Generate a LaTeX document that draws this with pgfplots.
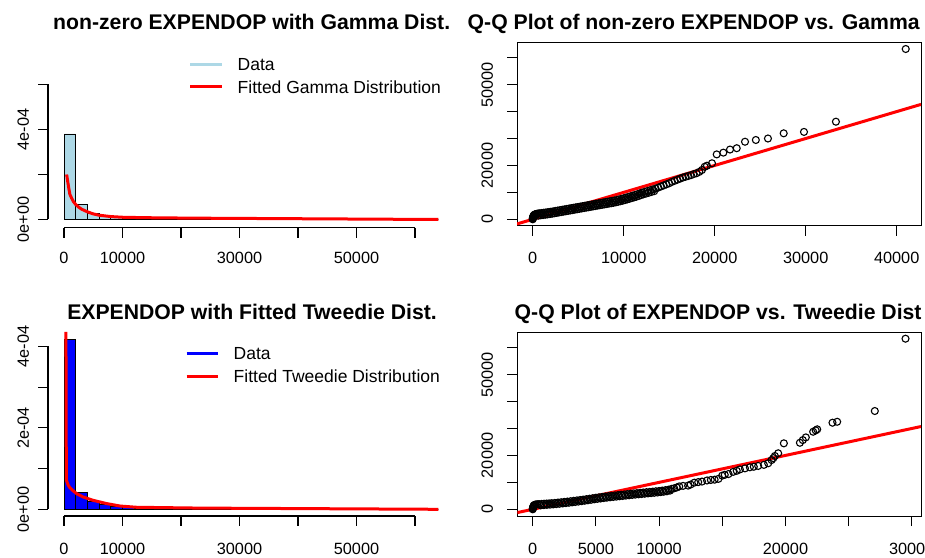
\documentclass[border=0pt]{standalone}
\usepackage{fontspec}
\setmainfont{Liberation Sans}
\usepackage{pgfplots}
\pgfplotsset{compat=1.18}
\definecolor{lblue}{HTML}{ADD8E6}
\definecolor{rred}{HTML}{FF0000}
\definecolor{rblue}{HTML}{0000FF}
\newcommand{\tickfont}{\fontsize{16.3}{18}\selectfont}
\newcommand{\legfont}{\fontsize{17.5}{20}\selectfont}
\newcommand{\titfont}{\fontsize{21.2}{24}\selectfont\bfseries}
\begin{document}
\begin{tikzpicture}[x=1pt,y=1pt]
\useasboundingbox (0,0) rectangle (925,557);
\clip (0,0) rectangle (925,557);

%================ Panel 1: histogram + gamma =================
\begin{axis}[at={(48pt,329.3pt)}, anchor=south west, scale only axis,
  width=405pt, height=150pt, xmin=-2735, xmax=66496, ymin=-0.3644e-4, ymax=6.302e-4,
  hide axis]
\addplot[ybar interval, fill=lblue, draw=black, line width=0.9pt] coordinates {
(0,3.8e-4) (2000,0.65e-4) (4000,0.28e-4) (6000,0.12e-4) (8000,0.07e-4) (10000,0.04e-4)
(12000,0.03e-4) (14000,0.02e-4) (16000,0.015e-4) (18000,0.01e-4) (20000,0.01e-4)
(22000,0.003e-4) (24000,0.003e-4) (26000,0.003e-4) (28000,0.002e-4) (30000,0.002e-4)
(32000,0.001e-4) (34000,0.001e-4) (36000,0) (38000,0) (40000,0) (42000,0) (44000,0)
(46000,0) (48000,0) (50000,0) (52000,0) (54000,0) (56000,0) (58000,0) (60000,0) (62000,0) (64000,0)};
\addplot[rred, line width=3pt] coordinates {
(450,2.0e-4) (600,1.75e-4) (800,1.42e-4) (1000,1.12e-4) (1300,0.95e-4) (1600,0.8e-4)
(2000,0.67e-4) (2500,0.55e-4) (3000,0.46e-4) (4000,0.34e-4) (5000,0.25e-4) (6000,0.19e-4)
(8000,0.13e-4) (10000,0.1e-4) (14000,0.08e-4) (18000,0.07e-4) (22000,0.06e-4) (64000,0.0)};
\end{axis}
\begin{scope}[line width=1.1pt]
\draw (64,329.3) -- (415,329.3);
\foreach \x in {64,122.5,181,239.5,298,356.5,415} \draw (\x,329.3) -- (\x,319.3);
\draw (48,337.5) -- (48,472.5);
\foreach \y in {337.5,382.5,427.5,472.5} \draw (48,\y) -- (38,\y);
\end{scope}
\node[font=\tickfont, anchor=base] at (64,293.2) {0};
\node[font=\tickfont, anchor=base] at (122.5,293.2) {10000};
\node[font=\tickfont, anchor=base] at (239.5,293.2) {30000};
\node[font=\tickfont, anchor=base] at (356.5,293.2) {50000};
\node[font=\tickfont, anchor=base, rotate=90] at (28.8,337.5) {0e+00};
\node[font=\tickfont, anchor=base, rotate=90] at (28.8,427.5) {4e-04};
\node[font=\titfont, anchor=base] at (251.7,527.8) {non-zero EXPENDOP with Gamma Dist.};
\draw[lblue, line width=3pt] (190,492) -- (222,492);
\draw[rred, line width=3pt] (190,470) -- (222,470);
\node[font=\legfont, anchor=west, inner sep=0pt] at (237.5,492) {Data};
\node[font=\legfont, anchor=west, inner sep=0pt] at (237.5,470) {Fitted Gamma Distribution};

%================ Panel 2: QQ gamma =================
\begin{axis}[at={(517pt,331pt)}, anchor=south west, scale only axis,
  width=404pt, height=183pt, xmin=-1725, xmax=42670, ymin=-2490, ymax=65470,
  scaled ticks=false,
  axis line style={line width=1pt}, tick pos=left, tick align=outside,
  major tick length=10pt, tick style={black, line width=1pt},
  xtick={0,10000,20000,30000,40000}, ytick={0,10000,20000,30000,40000,50000,60000},
  xticklabels={}, yticklabels={}]
\addplot[only marks, mark=o, mark size=3.5pt, mark options={line width=1.1pt}, black] coordinates {
(0,0) (10,200) (20,400) (30,600) (40,800) (60,1000) (80,1200) (110,1400) (150,1550) (200,1700)
(260,1800) (330,1900) (420,2000) (520,2080) (650,2150) (800,2230) (1000,2320) (1200,2420)
(1400,2500) (1600,2600) (1800,2700) (2000,2800) (2250,2950) (2500,3100) (2750,3250) (3000,3400)
(3250,3550) (3500,3700) (3750,3850) (4000,4000) (4250,4150) (4500,4300) (4750,4450) (5000,4600)
(5250,4750) (5500,4900) (5750,5050) (6000,5200) (6250,5350) (6500,5500) (6750,5650) (7000,5800)
(7250,5950) (7500,6100) (7750,6250) (8000,6400) (8250,6550) (8500,6700) (8750,6850) (9000,7000)
(9250,7200) (9500,7400) (9750,7600) (10000,7800) (10250,8050) (10500,8300) (10750,8550) (11000,8800)
(11250,9050) (11500,9300) (11750,9600) (12000,9900) (12300,10200) (12600,10500) (12900,10800)
(13200,11100) (13500,11400) (13800,11800) (14100,12200) (14400,12600) (14700,13000) (15000,13400)
(15300,13900) (15600,14300) (15900,14700) (16200,15100) (16500,15500) (16800,15800) (17100,16100)
(17400,16400) (17700,16800) (18000,17100) (18300,17600) (18600,18300) (18900,19500) (19150,19900)
(19700,20800) (20220,24100) (20950,24750) (21680,25900) (22420,26400) (23330,28800) (24520,29450)
(25850,30000) (27580,31930) (29810,32450) (33320,36240) (40990,63240)
(625,1340) (875,1475) (1125,1580) (1375,1690) (1625,1810) (1875,1940) (2125,2075) (2375,2225)
(2625,2375) (2875,2525) (3125,2675) (3375,2825) (3625,2975) (3875,3125) (4125,3275) (4375,3425)
(4625,3575) (4875,3725) (5125,3875) (5375,4025) (5625,4175) (5875,4325) (6125,4475) (6375,4625)
(6625,4775) (6875,4925) (7125,5075) (7375,5225) (7625,5375) (7875,5525) (8125,5675) (8375,5825)
(8625,5975) (8875,6125) (9125,6300) (9375,6500) (9625,6700) (9875,6900) (10125,7125) (10375,7375)
(10625,7625) (10875,7875) (11125,8125) (11375,8375) (11625,8650) (11875,8950) (12150,9250)
(12450,9550) (12750,9850) (13050,10150) (13350,10450)};
\addplot[rred, line width=3pt] coordinates {(-1725,-1725) (42670,42670)};
\end{axis}
\node[font=\tickfont, anchor=base] at (532.7,293.2) {0};
\node[font=\tickfont, anchor=base] at (623.7,293.2) {10000};
\node[font=\tickfont, anchor=base] at (714.7,293.2) {20000};
\node[font=\tickfont, anchor=base] at (805.7,293.2) {30000};
\node[font=\tickfont, anchor=base] at (896.7,293.2) {40000};
\node[font=\tickfont, anchor=base, rotate=90] at (492.9,337.7) {0};
\node[font=\tickfont, anchor=base, rotate=90] at (492.9,391.5) {20000};
\node[font=\tickfont, anchor=base, rotate=90] at (492.9,472.3) {50000};
\node[font=\titfont, anchor=base west, inner sep=0pt] at (467.5,527.8) {Q-Q Plot of non-zero EXPENDOP vs. Gamma};

%================ Panel 3: histogram + tweedie =================
\begin{axis}[at={(48pt,41pt)}, anchor=south west, scale only axis,
  width=405pt, height=194pt, xmin=-2735, xmax=66496, ymin=-0.1646e-4, ymax=4.602e-4,
  hide axis]
\addplot[ybar interval, fill=rblue, draw=black, line width=0.9pt] coordinates {
(0,4.18e-4) (2000,0.42e-4) (4000,0.2e-4) (6000,0.13e-4) (8000,0.08e-4) (10000,0.035e-4)
(12000,0.03e-4) (14000,0.02e-4) (16000,0.015e-4) (18000,0.01e-4) (20000,0.01e-4)
(22000,0.003e-4) (24000,0.003e-4) (26000,0.002e-4) (28000,0.001e-4) (30000,0.001e-4)
(32000,0) (34000,0) (36000,0) (38000,0) (40000,0) (42000,0) (44000,0)
(46000,0) (48000,0) (50000,0) (52000,0) (54000,0) (56000,0) (58000,0) (60000,0) (62000,0) (64000,0)};
\addplot[rred, line width=3pt] coordinates {
(330,4.36e-4) (400,0.72e-4) (700,0.6e-4) (1000,0.53e-4) (1600,0.45e-4) (2200,0.38e-4)
(3300,0.3e-4) (5000,0.22e-4) (7300,0.14e-4) (9600,0.08e-4) (12400,0.05e-4) (23000,0.03e-4) (64000,0.0)};
\end{axis}
\begin{scope}[line width=1.1pt]
\draw (64,41) -- (415,41);
\foreach \x in {64,122.5,181,239.5,298,356.5,415} \draw (\x,41) -- (\x,31);
\draw (48,47.7) -- (48,210.5);
\foreach \y in {47.7,88.4,129.1,169.8,210.5} \draw (48,\y) -- (38,\y);
\end{scope}
\node[font=\tickfont, anchor=base] at (64,2.9) {0};
\node[font=\tickfont, anchor=base] at (122.5,2.9) {10000};
\node[font=\tickfont, anchor=base] at (239.5,2.9) {30000};
\node[font=\tickfont, anchor=base] at (356.5,2.9) {50000};
\node[font=\tickfont, anchor=base, rotate=90] at (28.8,47.7) {0e+00};
\node[font=\tickfont, anchor=base, rotate=90] at (28.8,129.1) {2e-04};
\node[font=\tickfont, anchor=base, rotate=90] at (28.8,210.5) {4e-04};
\node[font=\titfont, anchor=base] at (252,237.8) {EXPENDOP with Fitted Tweedie Dist.};
\draw[rblue, line width=3pt] (186.7,203.7) -- (218.3,203.7);
\draw[rred, line width=3pt] (186.7,180.3) -- (218.3,180.3);
\node[font=\legfont, anchor=west, inner sep=0pt] at (233.5,203.7) {Data};
\node[font=\legfont, anchor=west, inner sep=0pt] at (233.5,180.3) {Fitted Tweedie Distribution};

%================ Panel 4: QQ tweedie =================
\begin{axis}[at={(517.3pt,41pt)}, anchor=south west, scale only axis,
  width=403.7pt, height=183.7pt, xmin=-1219, xmax=30737, ymin=-2488, ymax=65725,
  scaled ticks=false,
  axis line style={line width=1pt}, tick pos=left, tick align=outside,
  major tick length=10pt, tick style={black, line width=1pt},
  xtick={0,5000,10000,15000,20000,25000,30000}, ytick={0,10000,20000,30000,40000,50000,60000},
  xticklabels={}, yticklabels={}]
\addplot[only marks, mark=o, mark size=3.5pt, mark options={line width=1.1pt}, black] coordinates {
(0,0) (10,250) (20,500) (35,800) (50,1100) (80,1350) (120,1550) (180,1700) (260,1800) (360,1870)
(500,1930) (700,2000) (900,2070) (1100,2140) (1300,2200) (1500,2270) (1750,2370) (2000,2500)
(2250,2620) (2500,2750) (2750,2870) (3000,3000) (3250,3150) (3500,3300) (3750,3450) (4000,3600)
(4250,3770) (4500,3950) (4750,4120) (5000,4300) (5250,4450) (5500,4600) (5750,4750) (6000,4900)
(6250,5020) (6500,5150) (6750,5270) (7000,5400) (7250,5520) (7500,5650) (7750,5770) (8000,5900)
(8250,6010) (8500,6120) (8750,6240) (9000,6350) (9250,6460) (9500,6570) (9750,6690) (10000,6800)
(10250,6950) (10500,7100) (10750,7300) (11000,7600) (11200,7800) (11400,8100) (11600,8500)
(11900,8700) (12300,8800) (12500,9200) (12800,9900) (13100,10100) (13400,10300) (13800,10700)
(14100,10900) (14400,11000) (14700,11300) (15000,12500) (15200,12800) (15500,13100) (15870,13900)
(16150,14300) (16400,14800) (16800,15200) (17190,15600) (17500,15800) (17850,16100) (18300,16500)
(18640,17100) (18910,18300) (19050,19000) (19170,19800) (19430,20800) (19880,24500) (21150,24700)
(21380,25700) (21620,26700) (22200,28800) (22400,29300) (22520,29700) (23730,32150) (24100,32500)
(27080,36500) (29510,63350)
(625,1475) (875,1560) (1125,1645) (1375,1728) (1625,1820) (1875,1935) (2125,2060) (2375,2185)
(2625,2310) (2875,2435) (3125,2575) (3375,2725) (3625,2875) (3875,3025) (4125,3185) (4375,3360)
(4625,3535) (4875,3710) (5125,3875) (5375,4025) (5625,4175) (5875,4325) (6125,4460) (6375,4585)
(6625,4710) (6875,4835) (7125,4960) (7375,5085) (7625,5210) (7875,5335) (8125,5455) (8375,5565)
(8625,5680) (8875,5795) (9125,5905) (9375,6015) (9625,6130) (9875,6245) (10125,6375) (10375,6525)
(10625,6700) (10875,6950)};
\addplot[rred, line width=3pt] coordinates {(-1219,-1219) (30737,30737)};
\end{axis}
\node[font=\tickfont, anchor=base] at (532.7,2.9) {0};
\node[font=\tickfont, anchor=base] at (595.9,2.9) {5000};
\node[font=\tickfont, anchor=base] at (659,2.9) {10000};
\node[font=\tickfont, anchor=base] at (785.4,2.9) {20000};
\node[font=\tickfont, anchor=base] at (911.7,2.9) {30000};
\node[font=\tickfont, anchor=base, rotate=90] at (492.9,47.7) {0};
\node[font=\tickfont, anchor=base, rotate=90] at (492.9,101.6) {20000};
\node[font=\tickfont, anchor=base, rotate=90] at (492.9,182.3) {50000};
\node[font=\titfont, anchor=base west, inner sep=0pt] at (514.5,237.8) {Q-Q Plot of EXPENDOP vs. Tweedie Dist};
\end{tikzpicture}
\end{document}
